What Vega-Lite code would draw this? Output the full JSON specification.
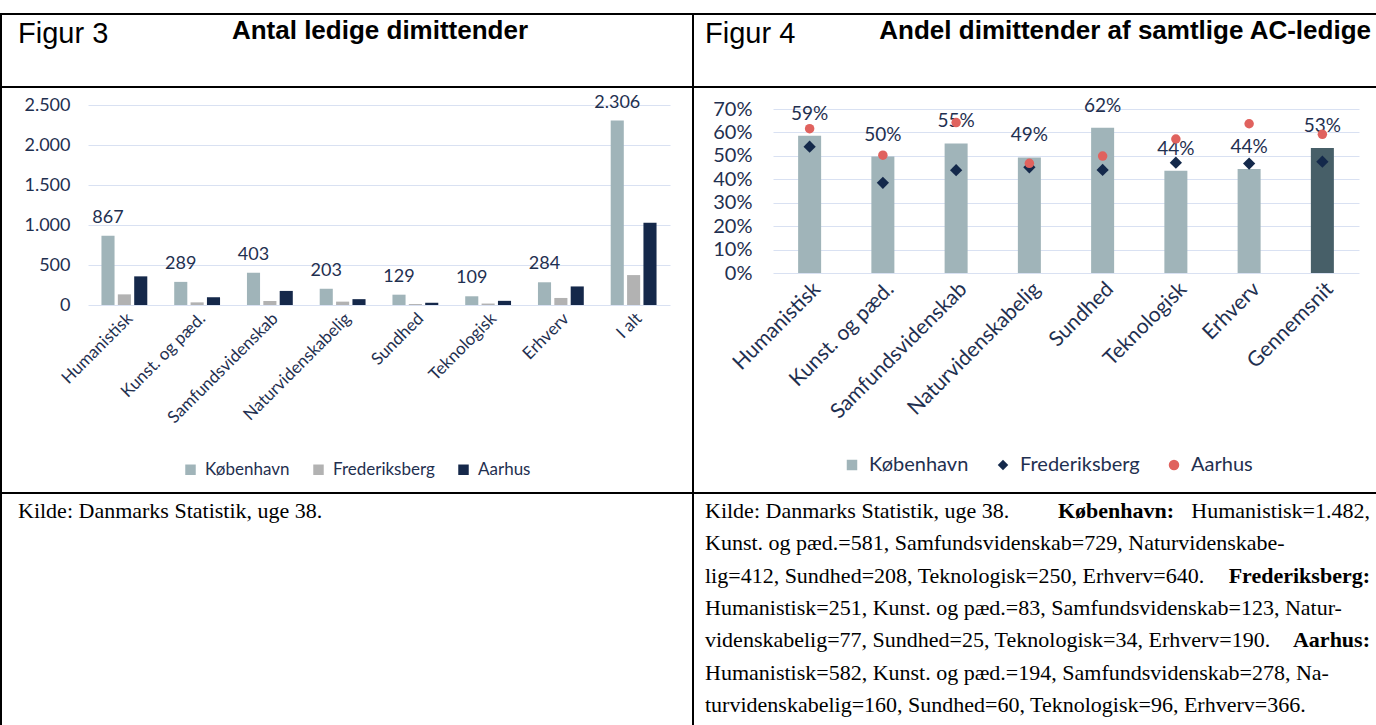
{
  "$schema": "https://vega.github.io/schema/vega-lite/v6.json",
  "background": "white",
  "padding": {"left": 0, "top": 13, "right": 0, "bottom": 0},
  "spacing": 0,
  "bounds": "flush",
  "columns": 2,
  "resolve": {"scale": {"color": "independent", "shape": "independent"}, "legend": {"color": "independent", "shape": "independent"}},
  "config": {
    "view": {"stroke": "#000000", "strokeWidth": 2},
    "locale": {"number": {"decimal": ",", "thousands": ".", "grouping": [3], "currency": ["", " kr."]}},
    "font": "Lato",
    "axis": {"labelColor": "#1f3050", "domain": false, "ticks": false, "title": null, "gridColor": "#d9e1f2", "gridWidth": 1, "labelFont": "Lato", "labelLimit": 400},
    "legend": {"labelFont": "Lato", "labelColor": "#1f3050"}
  },
  "concat": [
    {
      "width": 692, "height": 73,
      "view": {"stroke": "#000000", "strokeWidth": 2},
      "data": {"values": [{"a": 1}]},
      "layer": [
        {"mark": {"type": "text", "text": "Figur 3", "font": "Liberation Sans", "fontSize": 29, "align": "left", "baseline": "alphabetic", "color": "#000000", "x": 17, "y": 29}},
        {"mark": {"type": "text", "text": "Antal ledige dimittender", "font": "Liberation Sans", "fontWeight": "bold", "fontSize": 26, "align": "center", "baseline": "alphabetic", "color": "#000000", "x": 379, "y": 25}}
      ]
    },
    {
      "width": 684, "height": 73,
      "view": {"stroke": "#000000", "strokeWidth": 2},
      "data": {"values": [{"a": 1}]},
      "layer": [
        {"mark": {"type": "text", "text": "Figur 4", "font": "Liberation Sans", "fontSize": 29, "align": "left", "baseline": "alphabetic", "color": "#000000", "x": 12, "y": 29}},
        {"mark": {"type": "text", "text": "Andel dimittender af samtlige AC-ledige", "font": "Liberation Sans", "fontWeight": "bold", "fontSize": 26, "align": "right", "baseline": "alphabetic", "color": "#000000", "x": 678, "y": 25}}
      ]
    },
    {
      "width": 692, "height": 406,
      "data": {"values": [
        {"cat": "Humanistisk", "series": "København", "value": 867},
        {"cat": "Humanistisk", "series": "Frederiksberg", "value": 133},
        {"cat": "Humanistisk", "series": "Aarhus", "value": 358},
        {"cat": "Kunst. og pæd.", "series": "København", "value": 289},
        {"cat": "Kunst. og pæd.", "series": "Frederiksberg", "value": 33},
        {"cat": "Kunst. og pæd.", "series": "Aarhus", "value": 97},
        {"cat": "Samfundsvidenskab", "series": "København", "value": 403},
        {"cat": "Samfundsvidenskab", "series": "Frederiksberg", "value": 50},
        {"cat": "Samfundsvidenskab", "series": "Aarhus", "value": 176},
        {"cat": "Naturvidenskabelig", "series": "København", "value": 203},
        {"cat": "Naturvidenskabelig", "series": "Frederiksberg", "value": 42},
        {"cat": "Naturvidenskabelig", "series": "Aarhus", "value": 73},
        {"cat": "Sundhed", "series": "København", "value": 129},
        {"cat": "Sundhed", "series": "Frederiksberg", "value": 12},
        {"cat": "Sundhed", "series": "Aarhus", "value": 28},
        {"cat": "Teknologisk", "series": "København", "value": 109},
        {"cat": "Teknologisk", "series": "Frederiksberg", "value": 18},
        {"cat": "Teknologisk", "series": "Aarhus", "value": 52},
        {"cat": "Erhverv", "series": "København", "value": 284},
        {"cat": "Erhverv", "series": "Frederiksberg", "value": 88},
        {"cat": "Erhverv", "series": "Aarhus", "value": 232},
        {"cat": "I alt", "series": "København", "value": 2306},
        {"cat": "I alt", "series": "Frederiksberg", "value": 374},
        {"cat": "I alt", "series": "Aarhus", "value": 1028}
      ]},
      "encoding": {
        "x": {"field": "cat", "type": "nominal", "sort": null,
              "scale": {"range": [87, 669], "paddingInner": 0.37, "paddingOuter": 0.185},
              "axis": {"orient": "bottom", "offset": -188, "labelAngle": -45, "labelFontSize": 17, "labelPadding": 5, "grid": false}},
        "y": {"field": "value", "type": "quantitative",
              "scale": {"domain": [0, 2500], "range": [218, 18], "nice": false, "zero": true},
              "axis": {"orient": "left", "offset": -86, "values": [0, 500, 1000, 1500, 2000, 2500], "format": ",d", "labelFontSize": 18, "labelPadding": 17, "grid": true}},
        "xOffset": {"field": "series", "type": "nominal",
                    "scale": {"domain": ["København", "Frederiksberg", "Aarhus"], "paddingInner": 0.2, "paddingOuter": 0}}
      },
      "layer": [
        {
          "mark": {"type": "bar"},
          "encoding": {
            "color": {"field": "series", "type": "nominal",
                      "scale": {"domain": ["København", "Frederiksberg", "Aarhus"], "range": ["#a0b4b9", "#b2b2b2", "#15284a"]},
                      "legend": {"orient": "none", "legendX": 181, "legendY": 374, "direction": "horizontal", "title": null, "symbolType": "square", "symbolSize": 110, "labelFontSize": 17, "columnPadding": 20, "labelOffset": 6, "symbolStrokeWidth": 0}}
          }
        },
        {
          "transform": [{"filter": "datum.series === 'København'"}],
          "mark": {"type": "text", "baseline": "bottom", "dy": -9, "fontSize": 18, "color": "#1f3050"},
          "encoding": {"text": {"field": "value", "type": "quantitative", "format": ",d"}}
        }
      ]
    },
    {
      "width": 684, "height": 406,
      "data": {"values": [
        {"cat": "Humanistisk", "series": "København", "value": 0.586},
        {"cat": "Humanistisk", "series": "Frederiksberg", "value": 0.539},
        {"cat": "Humanistisk", "series": "Aarhus", "value": 0.616},
        {"cat": "Kunst. og pæd.", "series": "København", "value": 0.497},
        {"cat": "Kunst. og pæd.", "series": "Frederiksberg", "value": 0.385},
        {"cat": "Kunst. og pæd.", "series": "Aarhus", "value": 0.503},
        {"cat": "Samfundsvidenskab", "series": "København", "value": 0.553},
        {"cat": "Samfundsvidenskab", "series": "Frederiksberg", "value": 0.439},
        {"cat": "Samfundsvidenskab", "series": "Aarhus", "value": 0.642},
        {"cat": "Naturvidenskabelig", "series": "København", "value": 0.493},
        {"cat": "Naturvidenskabelig", "series": "Frederiksberg", "value": 0.451},
        {"cat": "Naturvidenskabelig", "series": "Aarhus", "value": 0.468},
        {"cat": "Sundhed", "series": "København", "value": 0.62},
        {"cat": "Sundhed", "series": "Frederiksberg", "value": 0.44},
        {"cat": "Sundhed", "series": "Aarhus", "value": 0.499},
        {"cat": "Teknologisk", "series": "København", "value": 0.436},
        {"cat": "Teknologisk", "series": "Frederiksberg", "value": 0.471},
        {"cat": "Teknologisk", "series": "Aarhus", "value": 0.572},
        {"cat": "Erhverv", "series": "København", "value": 0.444},
        {"cat": "Erhverv", "series": "Frederiksberg", "value": 0.467},
        {"cat": "Erhverv", "series": "Aarhus", "value": 0.637},
        {"cat": "Gennemsnit", "series": "København", "value": 0.534},
        {"cat": "Gennemsnit", "series": "Frederiksberg", "value": 0.475},
        {"cat": "Gennemsnit", "series": "Aarhus", "value": 0.592}
      ]},
      "encoding": {
        "x": {"field": "cat", "type": "nominal", "sort": null,
              "scale": {"range": [80, 666], "paddingInner": 0.686, "paddingOuter": 0.343},
              "axis": {"orient": "bottom", "offset": -220, "labelAngle": -45, "labelFontSize": 21, "labelPadding": 5, "grid": false}},
        "y": {"field": "value", "type": "quantitative",
              "scale": {"domain": [0, 0.7], "range": [186, 22], "nice": false},
              "axis": {"orient": "left", "offset": -80, "values": [0, 0.1, 0.2, 0.3, 0.4, 0.5, 0.6, 0.7], "format": ".0%", "labelFontSize": 20, "labelPadding": 21, "grid": true}}
      },
      "layer": [
        {
          "transform": [{"filter": "datum.series === 'København'"}],
          "mark": {"type": "bar"},
          "encoding": {
            "color": {"condition": {"test": "datum.cat === 'Gennemsnit'", "value": "#475f68"},
                      "field": "series", "type": "nominal",
                      "scale": {"domain": ["København", "Frederiksberg", "Aarhus"], "range": ["#a0b4b9", "#14294b", "#e0625e"]},
                      "legend": {"orient": "none", "legendX": 149, "legendY": 368, "direction": "horizontal", "title": null, "symbolSize": 110, "labelFontSize": 20, "columnPadding": 24, "labelOffset": 7, "symbolStrokeWidth": 0}}
          }
        },
        {
          "transform": [{"filter": "datum.series === 'København'"}],
          "mark": {"type": "text", "baseline": "bottom", "dy": -12, "fontSize": 19, "color": "#1f3050"},
          "encoding": {"text": {"field": "value", "type": "quantitative", "format": ".0%"}}
        },
        {
          "transform": [{"filter": "datum.series === 'Frederiksberg'"}],
          "mark": {"type": "point", "filled": true, "opacity": 1, "size": 150},
          "encoding": {
            "color": {"field": "series", "type": "nominal"},
            "shape": {"field": "series", "type": "nominal",
                      "scale": {"domain": ["København", "Frederiksberg", "Aarhus"], "range": ["square", "diamond", "circle"]},
                      "legend": {"orient": "none", "legendX": 149, "legendY": 368, "direction": "horizontal", "title": null, "symbolSize": 110, "labelFontSize": 20, "columnPadding": 24, "labelOffset": 7, "symbolStrokeWidth": 0}}
          }
        },
        {
          "transform": [{"filter": "datum.series === 'Aarhus'"}],
          "mark": {"type": "point", "filled": true, "opacity": 1, "size": 90},
          "encoding": {
            "color": {"field": "series", "type": "nominal"},
            "shape": {"field": "series", "type": "nominal"}
          }
        }
      ]
    },
    {
      "width": 692, "height": 240,
      "view": {"stroke": "#000000", "strokeWidth": 2},
      "data": {"values": [{"a": 1}]},
      "mark": {"type": "text", "text": "Kilde: Danmarks Statistik, uge 38.", "font": "Liberation Serif", "fontSize": 22, "align": "left", "baseline": "alphabetic", "color": "#000000", "x": 17, "y": 25}
    },
    {
      "width": 684, "height": 240,
      "view": {"stroke": "#000000", "strokeWidth": 2},
      "data": {"values": [{"a": 1}]},
      "layer": [
        {"mark": {"type": "text", "font": "Liberation Serif", "fontSize": 22, "align": "left", "baseline": "alphabetic", "color": "#000000", "x": 12, "y": 25, "lineHeight": 32.3,
                  "text": ["Kilde: Danmarks Statistik, uge 38.",
                           "Kunst. og pæd.=581, Samfundsvidenskab=729, Naturvidenskabe-",
                           "lig=412, Sundhed=208, Teknologisk=250, Erhverv=640.",
                           "Humanistisk=251, Kunst. og pæd.=83, Samfundsvidenskab=123, Natur-",
                           "videnskabelig=77, Sundhed=25, Teknologisk=34, Erhverv=190.",
                           "Humanistisk=582, Kunst. og pæd.=194, Samfundsvidenskab=278, Na-",
                           "turvidenskabelig=160, Sundhed=60, Teknologisk=96, Erhverv=366."]}},
        {"mark": {"type": "text", "text": "København:", "font": "Liberation Serif", "fontWeight": "bold", "fontSize": 22, "align": "left", "baseline": "alphabetic", "color": "#000000", "x": 365, "y": 25}},
        {"mark": {"type": "text", "text": "Humanistisk=1.482,", "font": "Liberation Serif", "fontSize": 22, "align": "right", "baseline": "alphabetic", "color": "#000000", "x": 677, "y": 25}},
        {"mark": {"type": "text", "text": "Frederiksberg:", "font": "Liberation Serif", "fontWeight": "bold", "fontSize": 22, "align": "right", "baseline": "alphabetic", "color": "#000000", "x": 677, "y": 89.6}},
        {"mark": {"type": "text", "text": "Aarhus:", "font": "Liberation Serif", "fontWeight": "bold", "fontSize": 22, "align": "right", "baseline": "alphabetic", "color": "#000000", "x": 677, "y": 154.2}}
      ]
    }
  ]
}
